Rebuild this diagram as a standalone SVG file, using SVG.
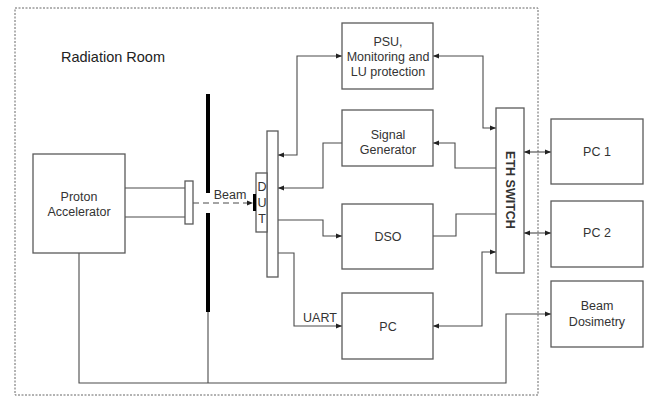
<svg xmlns="http://www.w3.org/2000/svg" width="651" height="397" viewBox="0 0 651 397">
<style>
.box{fill:#fff;stroke:#5a5a5a;stroke-width:1.3}
.ln{fill:none;stroke:#4a4a4a;stroke-width:1.1}
.t{font-family:"Liberation Sans",Arial,sans-serif;font-size:12.5px;fill:#333;text-anchor:middle}
.bar{fill:#000}
</style>
<defs>
<marker id="ah" viewBox="0 0 6 6" refX="6" refY="3" markerWidth="6" markerHeight="6" markerUnits="userSpaceOnUse" orient="auto-start-reverse">
<path d="M0,0.5 L6,3 L0,5.5 z" fill="#222"/>
</marker>
</defs>
<rect width="651" height="397" fill="#fff"/>
<rect x="15" y="8" width="523" height="387" fill="none" stroke="#666" stroke-width="1" stroke-dasharray="2,1.5"/>
<text x="61" y="62" font-family="'Liberation Sans',Arial,sans-serif" font-size="14.5" fill="#222">Radiation Room</text>

<g id="connectors">
<polyline class="ln" points="125,188 185,188"/>
<polyline class="ln" points="125,217 185,217"/>
<polyline class="ln" points="79,253 79,383 506,383 506,314 551,314" marker-end="url(#ah)"/>
<polyline class="ln" points="208,312 208,383"/>
<polyline class="ln" points="193,203 253,203" stroke-dasharray="6,4" marker-end="url(#ah)"/>
<polyline class="ln" points="278,155 297,155 297,56 342,56" marker-start="url(#ah)" marker-end="url(#ah)"/>
<polyline class="ln" points="496,128 483,128 483,56 433,56" marker-start="url(#ah)" marker-end="url(#ah)"/>
<polyline class="ln" points="496,168 455,168 455,143 433,143" marker-end="url(#ah)"/>
<polyline class="ln" points="342,143 323,143 323,188 278,188" marker-end="url(#ah)"/>
<polyline class="ln" points="278,220 323,220 323,236 342,236" marker-end="url(#ah)"/>
<polyline class="ln" points="433,236 456,236 456,214 496,214"/>
<polyline class="ln" points="496,252 482,252 482,326 433,326" marker-start="url(#ah)" marker-end="url(#ah)"/>
<polyline class="ln" points="278,253 294,253 294,326 342,326" marker-end="url(#ah)"/>
<polyline class="ln" points="524,152 551,152" marker-start="url(#ah)" marker-end="url(#ah)"/>
<polyline class="ln" points="524,233 551,233" marker-start="url(#ah)" marker-end="url(#ah)"/>
<text class="t" x="320" y="322">UART</text>
<text class="t" x="230" y="199">Beam</text>
</g>

<g id="shield">
<rect class="bar" x="206" y="94" width="4" height="99"/>
<rect class="bar" x="206" y="213" width="4" height="99"/>
</g>

<g id="proton-accelerator">
<rect class="box" x="33" y="154" width="92" height="99"/>
<text class="t" x="79" y="201">Proton</text>
<text class="t" x="79" y="216">Accelerator</text>
</g>

<g id="nozzle">
<rect class="box" x="185" y="181" width="8" height="43"/>
</g>

<g id="board">
<rect class="box" x="267" y="131" width="11" height="146"/>
</g>

<g id="dut">
<rect class="box" x="256" y="173" width="11" height="59"/>
<rect class="bar" x="253" y="194" width="3" height="17"/>
<text class="t" x="262" y="191">D</text>
<text class="t" x="262" y="207">U</text>
<text class="t" x="262" y="223">T</text>
</g>

<g id="psu">
<rect class="box" x="342" y="23" width="91" height="66"/>
<text class="t" x="388" y="46">PSU,</text>
<text class="t" x="388" y="61">Monitoring and</text>
<text class="t" x="388" y="76">LU protection</text>
</g>

<g id="signal-generator">
<rect class="box" x="342" y="110" width="91" height="56"/>
<text class="t" x="388" y="139">Signal</text>
<text class="t" x="388" y="154">Generator</text>
</g>

<g id="dso">
<rect class="box" x="342" y="204" width="91" height="65"/>
<text class="t" x="388" y="241">DSO</text>
</g>

<g id="pc">
<rect class="box" x="342" y="293" width="91" height="66"/>
<text class="t" x="388" y="331">PC</text>
</g>

<g id="eth-switch">
<rect class="box" x="496" y="108" width="28" height="165"/>
<text class="t" font-weight="bold" transform="translate(506,190) rotate(90)">ETH SWITCH</text>
</g>

<g id="pc1">
<rect class="box" x="551" y="119" width="92" height="65"/>
<text class="t" x="597" y="156">PC 1</text>
</g>

<g id="pc2">
<rect class="box" x="551" y="201" width="92" height="66"/>
<text class="t" x="597" y="237">PC 2</text>
</g>

<g id="beam-dosimetry">
<rect class="box" x="551" y="281" width="92" height="66"/>
<text class="t" x="597" y="310">Beam</text>
<text class="t" x="597" y="326">Dosimetry</text>
</g>
</svg>
